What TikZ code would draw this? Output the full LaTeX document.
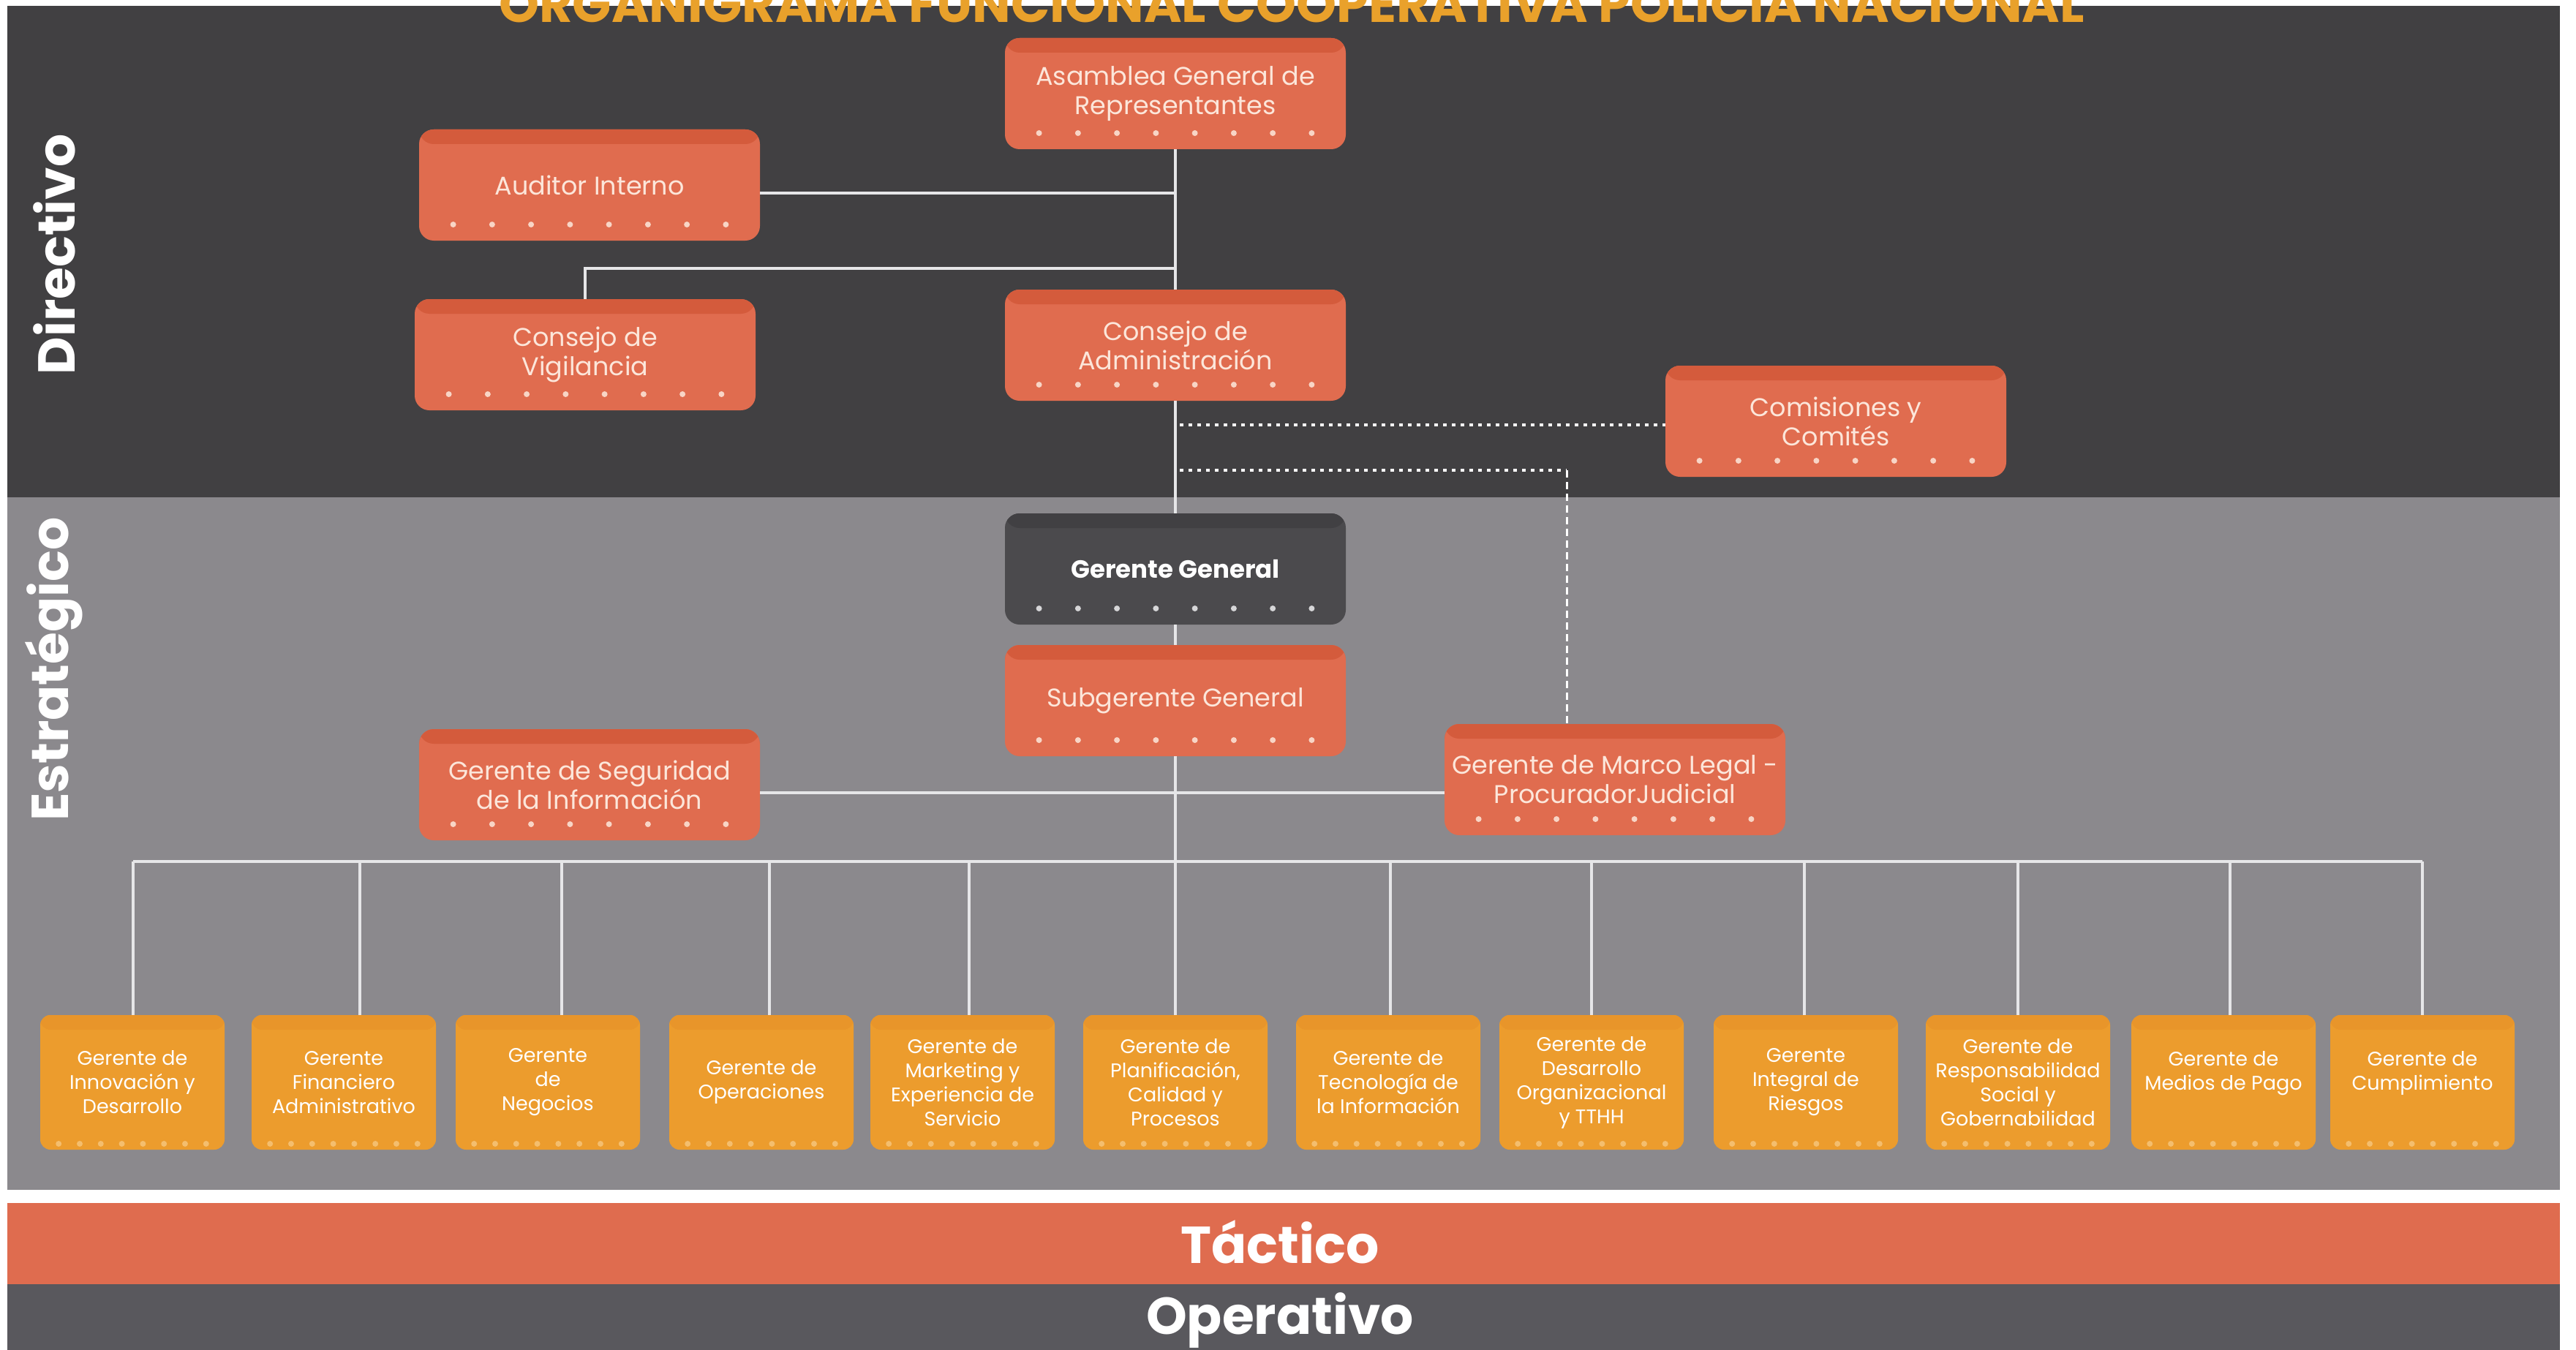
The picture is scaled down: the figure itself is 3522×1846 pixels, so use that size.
\documentclass[tikz,border=0pt]{standalone}
\usepackage{fontspec}
\setmainfont{Poppins}
\usetikzlibrary{calc}
\definecolor{dirbg}{HTML}{414042}
\definecolor{estbg}{HTML}{8B898D}
\definecolor{tacbg}{HTML}{DF6C4F}
\definecolor{opbg}{HTML}{59585D}
\definecolor{boxor}{HTML}{E06C4F}
\definecolor{boxortop}{HTML}{D45B3C}
\definecolor{boxtxt}{HTML}{FCE6DA}
\definecolor{dotor}{HTML}{F8D5C6}
\definecolor{boxye}{HTML}{EC9C2D}
\definecolor{boxyetop}{HTML}{E8952A}
\definecolor{dotye}{HTML}{F4BE6E}
\definecolor{boxgg}{HTML}{4B4A4D}
\definecolor{boxggtop}{HTML}{414043}
\definecolor{dotgg}{HTML}{D6D6D8}
\definecolor{titlec}{HTML}{E9A12B}
\definecolor{linec}{HTML}{E6E6E8}
\tikzset{
  boxbase/.style n args={4}{fill=#1,
    path picture={
      \fill[#2] (path picture bounding box.north west) rectangle ([yshift=-20pt]path picture bounding box.north east);
      \foreach \i in {0,...,7}{
        \fill[#3] ($(path picture bounding box.south west)!{0.1+0.8*\i/7}!(path picture bounding box.south east)+(0,#4)$) circle (4pt);}
    }},
  obox/.style={boxbase={boxor}{boxortop}{dotor}{22}, rounded corners=20pt,
    minimum width=466pt, minimum height=152pt, text=boxtxt, align=center,
    inner sep=0pt, font=\fontsize{35}{40}\selectfont},
  gbox/.style={boxbase={boxgg}{boxggtop}{dotgg}{22}, rounded corners=20pt,
    minimum width=466pt, minimum height=152pt, text=white, align=center,
    inner sep=0pt, font=\bfseries\fontsize{34}{40}\selectfont},
  ybox/.style={boxbase={boxye}{boxyetop}{dotye}{8}, rounded corners=14pt,
    minimum width=252pt, minimum height=184pt, text=white, align=center,
    inner sep=0pt, font=\fontsize{27}{33}\selectfont},
  lvl/.style={text=white, font=\bfseries\fontsize{71}{80}\selectfont},
  conn/.style={draw=linec, line width=4pt},
  dotl/.style={draw=white, line width=4pt, dash pattern=on 5pt off 7pt},
  dashl/.style={draw=white, line width=3pt, dash pattern=on 10pt off 6pt},
}
\begin{document}
\begin{tikzpicture}[x=1pt,y=1pt]
\useasboundingbox (0,0) rectangle (3522,-1846);
\clip (0,0) rectangle (3522,-1846);
\fill[white] (0,0) rectangle (3522,-1846);
\fill[dirbg] (10,-8) rectangle (3500,-680);
\fill[estbg] (10,-680) rectangle (3500,-1627);
\fill[tacbg] (10,-1645) rectangle (3500,-1756);
\fill[opbg] (10,-1756) rectangle (3500,-1846);

\node[anchor=base, text=titlec, font=\bfseries\fontsize{70}{74}\selectfont] (title) at (1766,-31) {ORGANIGRAMA FUNCIONAL COOPERATIVA POLICÍA NACIONAL};

\node[lvl, rotate=90] (ldir) at (74,-348) {Directivo};
\node[lvl, rotate=90] (lest) at (74,-915) {Estratégico};
\node[lvl] (ltac) at (1750,-1698) {Táctico};
\node[lvl] (lope) at (1750,-1805) {Operativo};

% top nodes
\node[obox] (asam) at (1607,-128) {Asamblea General de\\Representantes};
\node[obox] (aud) at (806,-253) {Auditor Interno};
\node[obox] (cvig) at (800,-485) {Consejo de\\Vigilancia};
\node[obox] (cadm) at (1607,-472) {Consejo de\\Administración};
\node[obox] (com) at (2510,-576) {Comisiones y\\Comités};
\node[gbox] (gg) at (1607,-778) {Gerente General};
\node[obox] (sub) at (1607,-958) {Subgerente General};
\node[obox] (seg) at (806,-1073) {Gerente de Seguridad\\de la Información};
\node[obox] (marco) at (2208,-1066) {Gerente de Marco Legal -\\ProcuradorJudicial};

% bottom nodes
\node[ybox] (b1) at (181,-1480) {Gerente de\\Innovación y\\Desarrollo};
\node[ybox] (b2) at (470,-1480) {Gerente\\Financiero\\Administrativo};
\node[ybox] (b3) at (749,-1480) {Gerente\\de\\Negocios};
\node[ybox] (b4) at (1041,-1480) {Gerente de\\Operaciones};
\node[ybox] (b5) at (1316,-1480) {Gerente de\\Marketing y\\Experiencia de\\Servicio};
\node[ybox] (b6) at (1607,-1480) {Gerente de\\Planificación,\\Calidad y\\Procesos};
\node[ybox] (b7) at (1898,-1480) {Gerente de\\Tecnología de\\la Información};
\node[ybox] (b8) at (2176,-1480) {Gerente de\\Desarrollo\\Organizacional\\y TTHH};
\node[ybox] (b9) at (2469,-1480) {Gerente\\Integral de\\Riesgos};
\node[ybox] (b10) at (2759,-1480) {Gerente de\\Responsabilidad\\Social y\\Gobernabilidad};
\node[ybox] (b11) at (3040,-1480) {Gerente de\\Medios de Pago\\\mbox{}};
\node[ybox] (b12) at (3312,-1480) {Gerente de\\Cumplimiento\\\mbox{}};

% connectors
\draw[conn] (asam.south) -- (cadm.north);
\draw[conn] (aud.east |- 0,-264) -- (asam.south |- 0,-264);
\draw[conn] (cadm.north |- 0,-367) -| (cvig.north);
\draw[conn] (cadm.south) -- (gg.north);
\draw[conn] (gg.south) -- (sub.north);
\draw[conn] (sub.south) -- (b6.north);
\draw[conn] (seg.east |- 0,-1084) -- (marco.west |- 0,-1084);
\coordinate (busL) at (182,-1178);
\coordinate (busR) at (3312,-1178);
\draw[conn] (busL) -- (busR);
\foreach \n/\x in {b1/182,b2/492,b3/768,b4/1052,b5/1325,b7/1901,b8/2176,b9/2467,b10/2759,b11/3049,b12/3312}{
  \draw[conn] (\x,-1178) -- (\x,-1178 |- \n.north);
}
\draw[dotl] ([xshift=6pt]cadm.south |- 0,-581) -- (com.west |- 0,-581);
\coordinate (mk) at (2142,-643);
\draw[dotl] ([xshift=6pt]cadm.south |- mk) -- (mk);
\draw[dashl] (mk) -- (mk |- marco.north);
\end{tikzpicture}
\end{document}
